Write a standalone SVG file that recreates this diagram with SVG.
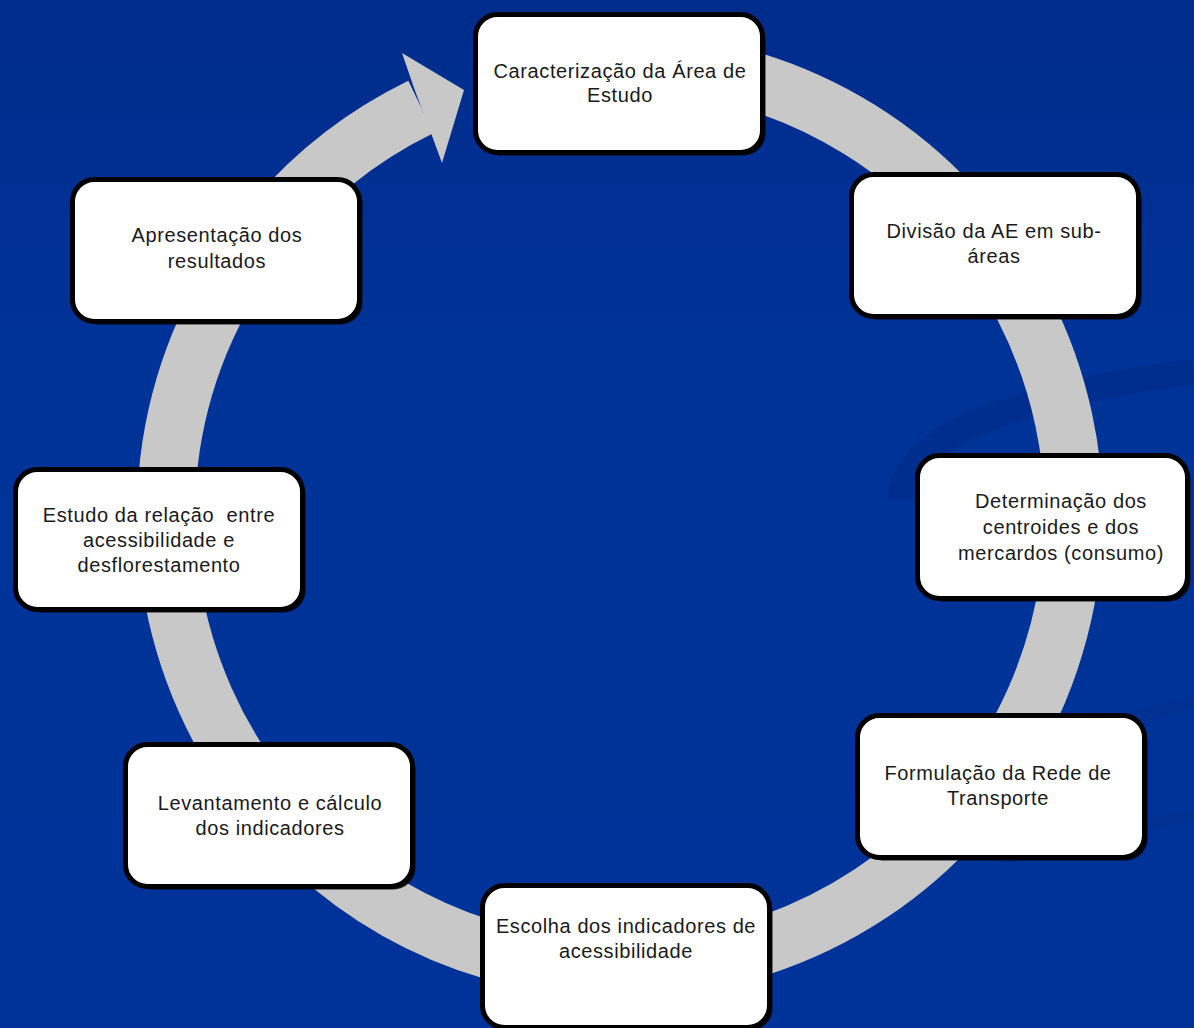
<svg xmlns="http://www.w3.org/2000/svg" width="1194" height="1028" viewBox="0 0 1194 1028">
<defs>
<linearGradient id="bg" x1="0" y1="0" x2="0" y2="1">
<stop offset="0" stop-color="#002C8C"/>
<stop offset="0.35" stop-color="#003398"/>
<stop offset="1" stop-color="#003399"/>
</linearGradient>
<style>
.shadow{fill:#000;opacity:0.85}
.box{fill:#fff;stroke:#000;stroke-width:5}
.lbl{font-family:"Liberation Sans",Arial,sans-serif;font-size:20px;fill:#1a1a1a;text-anchor:middle;letter-spacing:0.6px}
.ring{fill:none;stroke:#C8C8C8;stroke-width:58}
.swirl{fill:none;stroke:#002A85;opacity:0.5}
.swirl2{fill:none;stroke:#002A85;opacity:0.25}
</style>
</defs>
<rect x="0" y="0" width="1194" height="1028" fill="url(#bg)"/>
<g id="background-swirl">
<path class="swirl" stroke-width="26" d="M900,500 C900,430 1050,390 1194,372"/>
<path class="swirl2" stroke-width="14" d="M1000,760 C1080,735 1150,715 1194,700"/>
<path class="swirl2" stroke-width="12" d="M1000,860 C1080,840 1150,825 1194,815"/>
</g>
<g id="connectors">
<path class="ring" d="M541.2,67.9 A454,454 0 1 1 421.0,106.9"/>
<polygon fill="#C8C8C8" points="402,53 464,90 442,163 428,125 414,88"/>
</g>
<g id="node1">
<rect class="shadow" x="478.5" y="17.5" width="287" height="138" rx="22"/>
<rect class="box" x="475.5" y="14.5" width="287" height="138" rx="22"/>
<text class="lbl" x="620" y="78">Caracterização da Área de</text>
<text class="lbl" x="620" y="102">Estudo</text>
</g>
<g id="node2">
<rect class="shadow" x="854.5" y="177.5" width="287" height="142" rx="22"/>
<rect class="box" x="851.5" y="174.5" width="287" height="142" rx="22"/>
<text class="lbl" x="994" y="238">Divisão da AE em sub-</text>
<text class="lbl" x="994" y="263">áreas</text>
</g>
<g id="node3">
<rect class="shadow" x="920.5" y="458.5" width="270" height="143" rx="22"/>
<rect class="box" x="917.5" y="455.5" width="270" height="143" rx="22"/>
<text class="lbl" x="1061" y="508">Determinação dos</text>
<text class="lbl" x="1061" y="534">centroides e dos</text>
<text class="lbl" x="1061" y="560">mercardos (consumo)</text>
</g>
<g id="node4">
<rect class="shadow" x="860.5" y="718.5" width="287" height="142" rx="22"/>
<rect class="box" x="857.5" y="715.5" width="287" height="142" rx="22"/>
<text class="lbl" x="998" y="780">Formulação da Rede de</text>
<text class="lbl" x="998" y="805">Transporte</text>
</g>
<g id="node5">
<rect class="shadow" x="485.5" y="888.5" width="287" height="142" rx="22"/>
<rect class="box" x="482.5" y="885.5" width="287" height="142" rx="22"/>
<text class="lbl" x="626" y="933">Escolha dos indicadores de</text>
<text class="lbl" x="626" y="958">acessibilidade</text>
</g>
<g id="node6">
<rect class="shadow" x="128.5" y="747.5" width="287" height="142" rx="22"/>
<rect class="box" x="125.5" y="744.5" width="287" height="142" rx="22"/>
<text class="lbl" x="270" y="810">Levantamento e cálculo</text>
<text class="lbl" x="270" y="835">dos indicadores</text>
</g>
<g id="node7">
<rect class="shadow" x="18.5" y="472.5" width="287" height="140" rx="22"/>
<rect class="box" x="15.5" y="469.5" width="287" height="140" rx="22"/>
<text class="lbl" x="159" y="522" xml:space="preserve" style="white-space:pre">Estudo da relação  entre</text>
<text class="lbl" x="159" y="547">acessibilidade e</text>
<text class="lbl" x="159" y="572">desflorestamento</text>
</g>
<g id="node8">
<rect class="shadow" x="75.5" y="182.5" width="287" height="142" rx="22"/>
<rect class="box" x="72.5" y="179.5" width="287" height="142" rx="22"/>
<text class="lbl" x="217" y="242">Apresentação dos</text>
<text class="lbl" x="217" y="268">resultados</text>
</g>
</svg>
